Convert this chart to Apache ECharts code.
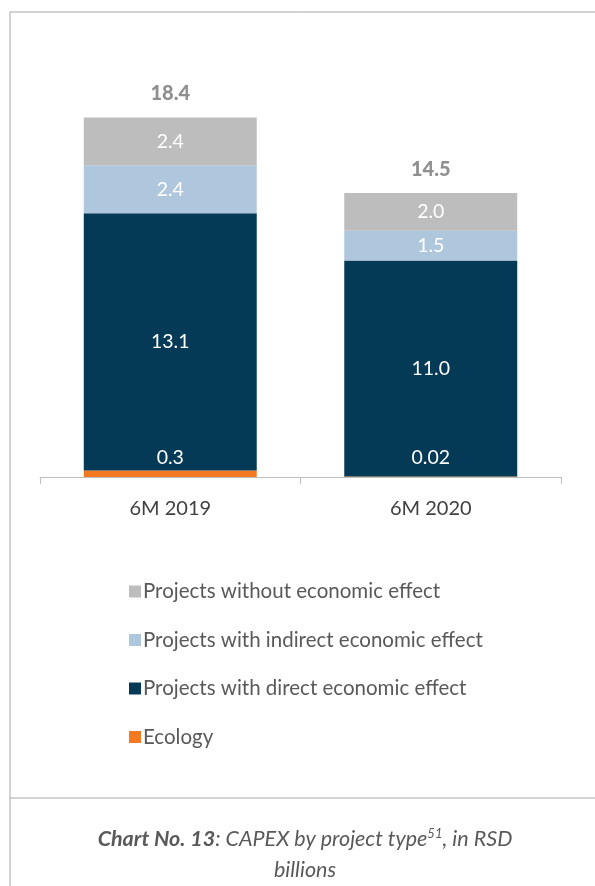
<!DOCTYPE html>
<html>
<head>
<meta charset="utf-8">
<script src="https://cdn.jsdelivr.net/npm/echarts@6/dist/echarts.min.js"></script>
<style>
  html, body { margin: 0; padding: 0; background: #ffffff; }
  #chart { width: 595px; height: 886px; }
</style>
</head>
<body>
<div id="chart"></div>
<script>
// ---- data ----
const categories = ['6M 2019', '6M 2020'];
const seriesNames = [
  'Projects without economic effect',
  'Projects with indirect economic effect',
  'Projects with direct economic effect',
  'Ecology'
];
const ecology = [0.33, 0.02];
const direct = [13.15, 11.04];
const indirect = [2.45, 1.52];
const withoutEffect = [2.45, 1.94];
const totals = [18.4, 14.5];
const ecologyLabels = ['0.3', '0.02'];
const directLabels = ['13.1', '11.0'];
const indirectLabels = ['2.4', '1.5'];
const withoutLabels = ['2.4', '2.0'];

// ---- chart ----
const FONT = 'Lato';
const chart = echarts.init(document.getElementById('chart'), null, { renderer: 'canvas' });

function segLabel(arr, extra) {
  return Object.assign({
    show: true,
    position: 'inside',
    color: '#ffffff',
    fontFamily: FONT,
    fontSize: 19.5,
    formatter: p => arr[p.dataIndex]
  }, extra || {});
}

const option = {
  backgroundColor: '#ffffff',
  animation: false,
  title: {
    left: 300,
    top: 819,
    textAlign: 'center',
    text: '{b|Chart No. 13}{i|: CAPEX by project type}{s|51}{i|, in RSD}\n{i|billions}',
    textStyle: {
      fontWeight: 'normal',
      rich: {
        b: { fontFamily: FONT, fontSize: 21.5, fontStyle: 'italic', fontWeight: 'bold', color: '#595959', lineHeight: 31 },
        i: { fontFamily: FONT, fontSize: 21.5, fontStyle: 'italic', fontWeight: 'normal', color: '#595959', lineHeight: 31 },
        s: { fontFamily: FONT, fontSize: 13, fontStyle: 'italic', fontWeight: 'normal', color: '#595959', lineHeight: 31, padding: [0, 0, 12, 0] }
      }
    }
  },
  legend: {
    orient: 'vertical',
    left: 124,
    top: 576,
    itemWidth: 12,
    itemHeight: 12,
    itemGap: 27.5,
    icon: 'rect',
    data: seriesNames,
    textStyle: { fontFamily: FONT, fontSize: 20.5, color: '#595959', padding: [0, 0, 0, -3] }
  },
  grid: { left: 40, right: 34, top: 85.7, height: 391.3 },
  xAxis: {
    type: 'category',
    data: categories,
    axisLine: { lineStyle: { color: '#bfbfbf', width: 1 } },
    axisTick: { show: true, length: 7, lineStyle: { color: '#bfbfbf' } },
    axisLabel: { fontFamily: FONT, fontSize: 20, color: '#404040', margin: 22 }
  },
  yAxis: {
    type: 'value',
    min: 0,
    max: 20,
    show: false,
    splitLine: { show: false }
  },
  graphic: [
    { type: 'line', shape: { x1: 10, y1: 12, x2: 595, y2: 12 }, style: { stroke: '#a6a6a6', lineWidth: 1 } },
    { type: 'line', shape: { x1: 10, y1: 12, x2: 10, y2: 886 }, style: { stroke: '#a6a6a6', lineWidth: 1 } },
    { type: 'line', shape: { x1: 10, y1: 798, x2: 595, y2: 798 }, style: { stroke: '#a6a6a6', lineWidth: 1 } }
  ],
  series: [
    {
      name: 'Ecology', type: 'bar', stack: 'capex', barWidth: '66.4%',
      itemStyle: { color: '#f47920' },
      data: ecology,
      label: segLabel(ecologyLabels, { position: 'insideBottom', distance: 9 })
    },
    {
      name: 'Projects with direct economic effect', type: 'bar', stack: 'capex', barWidth: '66.4%',
      itemStyle: { color: '#053a57' },
      data: direct,
      label: segLabel(directLabels)
    },
    {
      name: 'Projects with indirect economic effect', type: 'bar', stack: 'capex', barWidth: '66.4%',
      itemStyle: { color: '#afc7dc' },
      data: indirect,
      label: segLabel(indirectLabels)
    },
    {
      name: 'Projects without economic effect', type: 'bar', stack: 'capex', barWidth: '66.4%',
      itemStyle: { color: '#bdbdbd' },
      data: withoutEffect,
      label: segLabel(withoutLabels)
    },
    {
      name: 'Total', type: 'scatter',
      symbolSize: 1,
      itemStyle: { color: 'rgba(0,0,0,0)' },
      data: totals,
      label: {
        show: true, position: 'top', distance: 13,
        fontFamily: FONT, fontSize: 20, fontWeight: 900, color: '#737373',
        formatter: p => totals[p.dataIndex].toFixed(1)
      },
      z: 5
    }
  ]
};
chart.setOption(option);
</script>
</body>
</html>
